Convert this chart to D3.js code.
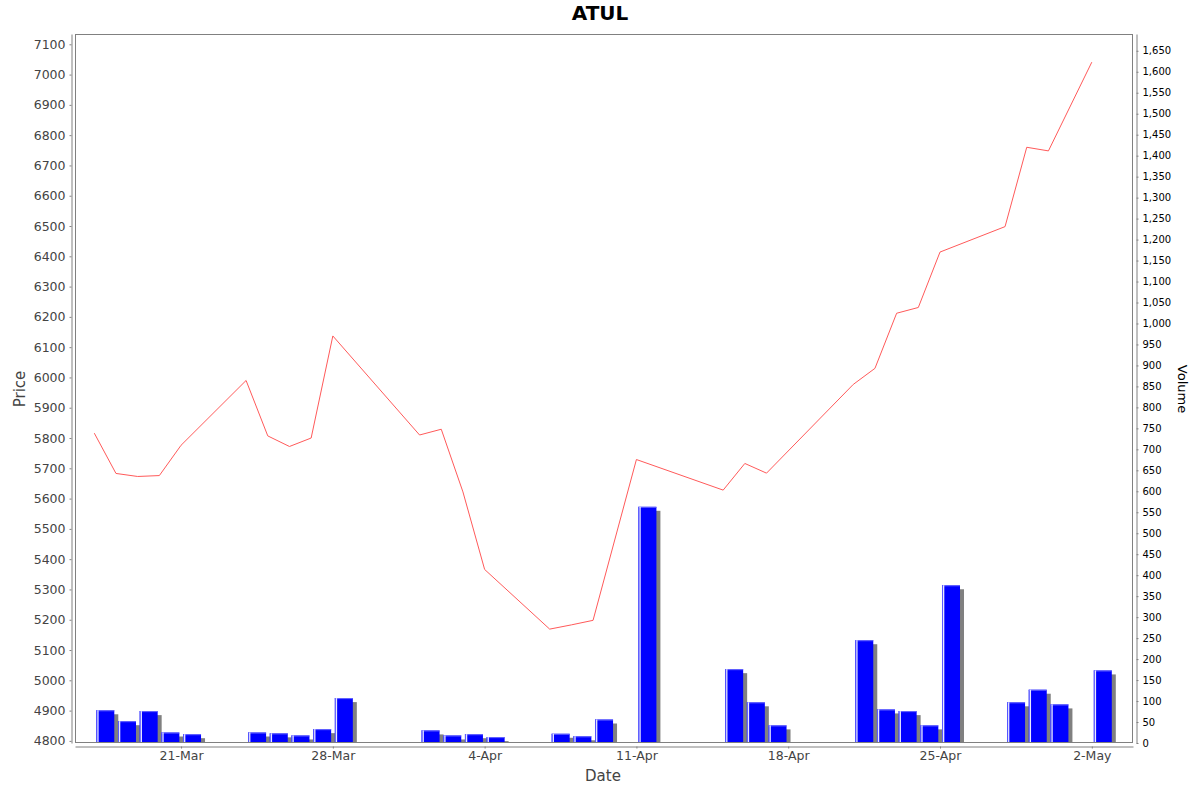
<!DOCTYPE html>
<html>
<head>
<meta charset="utf-8">
<title>ATUL</title>
<script src="https://cdn.jsdelivr.net/npm/d3@7"></script>
<style>
  body { margin: 0; background: #fff; }
  text { font-family: "DejaVu Sans", sans-serif; }
</style>
</head>
<body>
<script>
// trading days, close price and volume
var dates = ["2025-03-17", "2025-03-18", "2025-03-19", "2025-03-20", "2025-03-21",
             "2025-03-24", "2025-03-25", "2025-03-26", "2025-03-27", "2025-03-28",
             "2025-04-01", "2025-04-02", "2025-04-03", "2025-04-04",
             "2025-04-07", "2025-04-08", "2025-04-09", "2025-04-11",
             "2025-04-15", "2025-04-16", "2025-04-17",
             "2025-04-21", "2025-04-22", "2025-04-23", "2025-04-24", "2025-04-25",
             "2025-04-28", "2025-04-29", "2025-04-30", "2025-05-02"];
var prices = [5816, 5683, 5673, 5676, 5776,
              5990, 5807, 5772, 5800, 6137,
              5810, 5829, 5622, 5366,
              5169, 5183, 5198, 5729,
              5628, 5716, 5684,
              5977, 6030, 6212, 6231, 6414,
              6498, 6760, 6748, 7041];
var volumes = [78, 52, 76, 25, 21,
               25, 23, 18, 33, 107,
               30, 18, 21, 14,
               22, 16, 56, 563,
               176, 97, 42,
               245, 80, 76, 42, 376,
               97, 127, 92, 173];
var dateTicks = ["2025-03-21", "2025-03-28", "2025-04-04", "2025-04-11",
                 "2025-04-18", "2025-04-25", "2025-05-02"];
var priceTicks = d3.range(4800, 7101, 100);
var volumeTicks = d3.range(0, 1651, 50);

var W = 1200, H = 792;
var pL = 75, pR = 1133, pT = 34, pB = 743;
var DAY = 864e5;

var parse = d3.utcParse("%Y-%m-%d");
var days = dates.map(parse);

var svg = d3.select("body").append("svg")
    .attr("width", W)
    .attr("height", H);

var x = d3.scaleUtc()
    .domain([new Date(+days[0] - 0.89 * DAY), new Date(+days[days.length - 1] + 1.9 * DAY)])
    .range([pL, pR]);
var yP = d3.scaleLinear().domain([4793, 7134]).range([pB, pT]);
var yV = d3.scaleLinear().domain([0, 1690]).range([pB, pT]);

var dayW = x(new Date(+days[0] + DAY)) - x(days[0]);

svg.append("clipPath").attr("id", "plot")
  .append("rect")
    .attr("x", pL).attr("y", pT)
    .attr("width", pR - pL).attr("height", pB - pT);

var plot = svg.append("g").attr("clip-path", "url(#plot)");

// volume bars: shadow, body, highlight
var bw = dayW * 0.83;
plot.selectAll(".shadow")
    .data(volumes)
    .enter().append("rect")
    .attr("x", function(d, i) { return x(days[i]) + 2 + 4; })
    .attr("y", function(d) { return yV(d) + 4; })
    .attr("width", bw)
    .attr("height", function(d) { return Math.max(0, pB - yV(d)); })
    .attr("fill", "#808080");

plot.selectAll(".bar")
    .data(volumes)
    .enter().append("rect")
    .attr("x", function(d, i) { return x(days[i]) + 2; })
    .attr("y", function(d) { return yV(d); })
    .attr("width", bw)
    .attr("height", function(d) { return pB - yV(d); })
    .attr("fill", "#0000ff");

plot.selectAll(".edge")
    .data(volumes)
    .enter().append("rect")
    .attr("x", function(d, i) { return x(days[i]) + 2; })
    .attr("y", function(d) { return yV(d); })
    .attr("width", bw)
    .attr("height", 1)
    .attr("fill", "#6a6aff");

plot.selectAll(".hl1")
    .data(volumes)
    .enter().append("rect")
    .attr("x", function(d, i) { return x(days[i]) + 2; })
    .attr("y", function(d) { return yV(d); })
    .attr("width", 1)
    .attr("height", function(d) { return pB - yV(d); })
    .attr("fill", "#5a5aff");

plot.selectAll(".hl2")
    .data(volumes)
    .enter().append("rect")
    .attr("x", function(d, i) { return x(days[i]) + 3; })
    .attr("y", function(d) { return yV(d); })
    .attr("width", 1.3)
    .attr("height", function(d) { return pB - yV(d); })
    .attr("fill", "#eaeaff");

// price line
var line = d3.line()
    .x(function(d, i) { return x(days[i]); })
    .y(function(d) { return yP(d); });

plot.append("path")
    .datum(prices)
    .attr("d", line)
    .attr("fill", "none")
    .attr("stroke", "#ff5a5a")
    .attr("stroke-width", 1);

// plot frame
svg.append("rect")
    .attr("x", pL + 0.5).attr("y", pT + 0.5)
    .attr("width", pR - pL - 1).attr("height", pB - pT - 1)
    .attr("fill", "none")
    .attr("stroke", "#808080");

function styleAxis(g, col) {
  g.select(".domain").attr("stroke", "#808080");
  g.selectAll(".tick line").attr("stroke", "#808080");
  g.selectAll(".tick text").attr("fill", col);
}

// left price axis
svg.append("g")
    .attr("transform", "translate(" + (pL - 3.5) + ",0)")
    .call(d3.axisLeft(yP).tickValues(priceTicks).tickSize(2).tickSizeOuter(0).tickPadding(4)
      .tickFormat(d3.format("d")))
    .call(styleAxis, "#444")
    .selectAll("text").attr("font-size", 12.5);

// right volume axis
svg.append("g")
    .attr("transform", "translate(" + (pR + 3.5) + ",0)")
    .call(d3.axisRight(yV).tickValues(volumeTicks).tickSize(2).tickSizeOuter(0).tickPadding(4)
      .tickFormat(d3.format(",")))
    .call(styleAxis, "#000")
    .selectAll("text").attr("font-size", 10);

// bottom date axis
svg.append("g")
    .attr("transform", "translate(0," + (pB + 3.5) + ")")
    .call(d3.axisBottom(x).tickValues(dateTicks.map(parse)).tickSize(2).tickSizeOuter(0).tickPadding(3)
      .tickFormat(d3.utcFormat("%-d-%b")))
    .call(styleAxis, "#444")
    .selectAll("text").attr("font-size", 12.5);

// titles
svg.append("text")
    .attr("x", 600).attr("y", 20)
    .attr("text-anchor", "middle")
    .attr("font-size", 20).attr("font-weight", "bold")
    .attr("fill", "#000")
    .text("ATUL");

svg.append("text")
    .attr("x", 603).attr("y", 781)
    .attr("text-anchor", "middle")
    .attr("font-size", 15)
    .attr("fill", "#444")
    .text("Date");

svg.append("text")
    .attr("transform", "translate(25,389) rotate(-90)")
    .attr("text-anchor", "middle")
    .attr("font-size", 15)
    .attr("fill", "#444")
    .text("Price");

svg.append("text")
    .attr("transform", "translate(1178,389) rotate(90)")
    .attr("text-anchor", "middle")
    .attr("font-size", 13)
    .attr("fill", "#000")
    .text("Volume");
</script>
</body>
</html>
